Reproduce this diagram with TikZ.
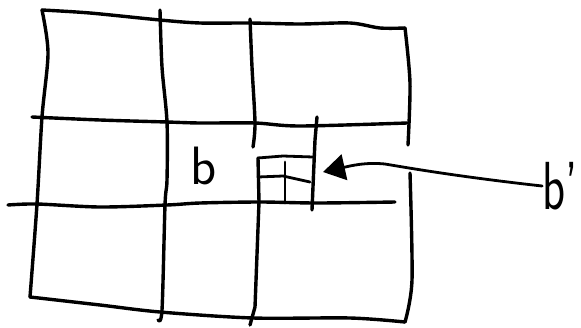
\documentclass[tikz,border=0pt]{standalone}
\usepackage{fontspec}
\usetikzlibrary{arrows.meta}
\tikzset{
  pen/.style={line width=3.4pt, line cap=round, line join=round},
  thinpen/.style={line width=2.8pt, line cap=round, line join=round},
  lbl/.style={font=\sffamily\fontsize{54}{60}\selectfont, inner sep=0pt},
  biglbl/.style={font=\sffamily\fontsize{68}{70}\selectfont, inner sep=0pt}
}
\begin{document}
\begin{tikzpicture}[x=1pt,y=-1pt]
\useasboundingbox (0,0) rectangle (581,327);
% outer frame
\draw[pen] plot[smooth] coordinates {(405,28) (380,28) (350,23) (300,24) (250,23) (200,23) (160,20) (90,13) (42,10)};
\draw[pen] plot[smooth] coordinates {(42,10) (48,53) (42,117) (37,204) (30,297)};
\draw[pen] plot[smooth] coordinates {(30,297) (100,305) (160,312) (253,318) (350,318) (405,322)};
\draw[pen] plot[smooth] coordinates {(405,322) (412,280) (410,173)};
\draw[pen] plot[smooth] coordinates {(405,28) (410,83) (408,145)};
% horizontal lines
\draw[pen] plot[smooth] coordinates {(32,117) (100,120) (167,122) (200,123) (255,123) (300,126) (407,123)};
\draw[pen] plot[smooth] coordinates {(8,205) (37,204) (100,207) (167,205) (200,203) (260,202) (317,203) (395,202)};
% vertical lines
\draw[pen] plot[smooth] coordinates {(160,10) (162,67) (167,122) (167,180) (165,205) (162,310) (158,320)};
\draw[pen] plot[smooth] coordinates {(250,19) (252,67) (255,123) (253,147)};
\draw[pen] (258,158) -- (259,202) -- (255,307) -- (250,325);
% small box
\draw[thinpen] (258,158) -- (283,156) -- (313,157);
\draw[thinpen] (258,177) -- (283,176) -- (310,182);
\draw[thinpen] (285,162) -- (285,203);
\draw[pen] (317,117) -- (315,140) -- (312,210);
% labels
\node[lbl] (b) at (204,166) {b};
\node[biglbl, anchor=east] (bp) at (578,186) {\scalebox{0.7}[1]{b'}};
\coordinate (tip) at (323,172);
\draw[line width=2.8pt, line cap=round, -{Triangle[length=22pt,width=26pt]}]
  (bp.west) .. controls (470,178) and (420,170) .. (385,164)
  .. controls (365,162) and (350,166) .. (tip);
\end{tikzpicture}
\end{document}
